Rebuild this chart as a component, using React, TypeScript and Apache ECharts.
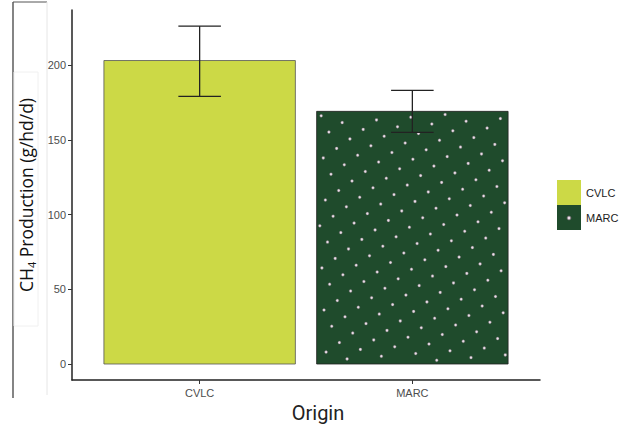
import React, { useEffect, useRef } from "react";
import * as echarts from "echarts";

const categories = ["CVLC", "MARC"];
const means = [203, 169];
const errLow = [179, 155];
const errHigh = [226, 183];
const yTicks = [0, 50, 100, 150, 200];

const fills = ["#CCD946", "#1F4B2C"];

export default function App() {
  const ref = useRef<HTMLDivElement>(null);
  useEffect(() => {
    const chart = echarts.init(ref.current!, null, { renderer: "svg" });

    const barRender = (withDots: boolean, fill: string, stroke: string) => (params: any, api: any) => {
      const x = api.value(0);
      const y = api.value(1);
      const p1 = api.coord([x - 0.45, y]);
      const p2 = api.coord([x + 0.45, 0]);
      const rx = p1[0], ry = p1[1], rw = p2[0] - p1[0], rh = p2[1] - p1[1];
      const children: any[] = [
        { type: "rect", shape: { x: rx, y: ry, width: rw, height: rh }, style: { fill, stroke, lineWidth: 0.8 } },
      ];
      if (withDots) {
        const ax = 21, ay = 6.8, bx = 7.7, by = 16.3, ox = 324, oy = 310;
        for (let i = -40; i <= 40; i++) {
          for (let j = -40; j <= 40; j++) {
            const px = ox + i * ax + j * bx;
            const py = oy + i * ay + j * by;
            if (px > rx + 2 && px < rx + rw - 2 && py > ry + 2 && py < ry + rh - 2) {
              children.push({
                type: "circle",
                shape: { cx: px, cy: py, r: 1.5 },
                style: { fill: "#eadde8", stroke: "#5a5a5a", lineWidth: 0.5 },
              });
            }
          }
        }
      }
      return { type: "group", children };
    };

    const errRender = (params: any, api: any) => {
      const x = api.value(0);
      const lo = api.value(1);
      const hi = api.value(2);
      const pTop = api.coord([x, hi]);
      const pBot = api.coord([x, lo]);
      const pL = api.coord([x - 0.1, hi]);
      const pR = api.coord([x + 0.1, hi]);
      const st = { stroke: "#222", lineWidth: 1.3 };
      return {
        type: "group",
        children: [
          { type: "line", shape: { x1: pTop[0], y1: pTop[1], x2: pBot[0], y2: pBot[1] }, style: st },
          { type: "line", shape: { x1: pL[0], y1: pTop[1], x2: pR[0], y2: pTop[1] }, style: st },
          { type: "line", shape: { x1: pL[0], y1: pBot[1], x2: pR[0], y2: pBot[1] }, style: st },
        ],
      };
    };

    const option: any = {
      animation: false,
      backgroundColor: "#ffffff",
      grid: { left: 72, right: 84, top: 10, bottom: 45, containLabel: false, outerBoundsMode: "none" },
      xAxis: {
        type: "value",
        min: 0.4,
        max: 2.6,
        splitLine: { show: false },
        axisLine: { show: true, onZero: false, lineStyle: { color: "#222", width: 1.5 } },
        axisTick: { show: true, customValues: [1, 2], length: 4, lineStyle: { color: "#333" } },
        axisLabel: {
          customValues: [1, 2],
          formatter: (v: number) => categories[Math.round(v) - 1] || "",
          color: "#4d4d4d",
          fontSize: 11,
          fontFamily: "Liberation Sans",
          margin: 7,
        },
        name: "Origin",
        nameLocation: "middle",
        nameGap: 20,
        nameTextStyle: { fontSize: 20, color: "#222", fontFamily: "Roboto", padding: [0, 0, 0, 24] },
      },
      yAxis: {
        type: "value",
        min: -10.7,
        max: 236.8,
        splitLine: { show: false },
        axisLine: { show: true, onZero: false, lineStyle: { color: "#222", width: 1.5 } },
        axisTick: { show: true, customValues: yTicks, length: 4, lineStyle: { color: "#333" } },
        axisLabel: {
          customValues: yTicks,
          color: "#4d4d4d",
          fontSize: 11,
          fontFamily: "Liberation Sans",
          margin: 6,
        },
        name: "CH{sub|4} Production (g/hd/d)",
        nameLocation: "middle",
        nameGap: 32,
        nameTextStyle: {
          fontSize: 17.5,
          color: "#111",
          fontFamily: "Open Sans",
          rich: {
            sub: { fontSize: 11, fontFamily: "Open Sans", color: "#111", padding: [10, 0, 0, 0] },
          },
        },
      },
      legend: {
        orient: "vertical",
        left: 557,
        top: 180,
        padding: 0,
        itemWidth: 24,
        itemHeight: 25,
        itemGap: 0,
        icon: "rect",
        textStyle: { fontSize: 11, color: "#222", fontFamily: "Liberation Sans" },
        itemStyle: { borderWidth: 0 },
        data: categories,
      },
      series: [
        {
          type: "custom",
          name: categories[0],
          itemStyle: { color: fills[0] },
          renderItem: barRender(false, fills[0], "#555"),
          data: [[1, means[0]]],
          z: 2,
        },
        {
          type: "custom",
          name: categories[1],
          itemStyle: { color: fills[1] },
          renderItem: barRender(true, fills[1], "#222"),
          data: [[2, means[1]]],
          z: 2,
        },
        {
          type: "custom",
          name: "err",
          renderItem: errRender,
          data: categories.map((c, i) => [i + 1, errLow[i], errHigh[i]]),
          z: 3,
        },
      ],
      graphic: [
        { type: "line", shape: { x1: 13, y1: 2, x2: 13, y2: 398 }, style: { stroke: "#333", lineWidth: 1.2 } },
        { type: "line", shape: { x1: 13, y1: 2, x2: 47, y2: 2 }, style: { stroke: "#555", lineWidth: 1 } },
        { type: "line", shape: { x1: 47, y1: 2, x2: 47, y2: 395 }, style: { stroke: "#e6e6e6", lineWidth: 1 } },
        { type: "rect", shape: { x: 14, y: 72, width: 24, height: 254 }, style: { fill: "none", stroke: "#f0f0f0", lineWidth: 1 } },
        { type: "circle", shape: { cx: 569, cy: 218, r: 2 }, style: { fill: "#eadde8", stroke: "#555", lineWidth: 0.8 }, z: 100 },
      ],
    };
    chart.setOption(option);
    return () => chart.dispose();
  }, []);
  return <div ref={ref} style={{ width: 624, height: 425, position: "absolute", left: 0, top: 0 }} />;
}
